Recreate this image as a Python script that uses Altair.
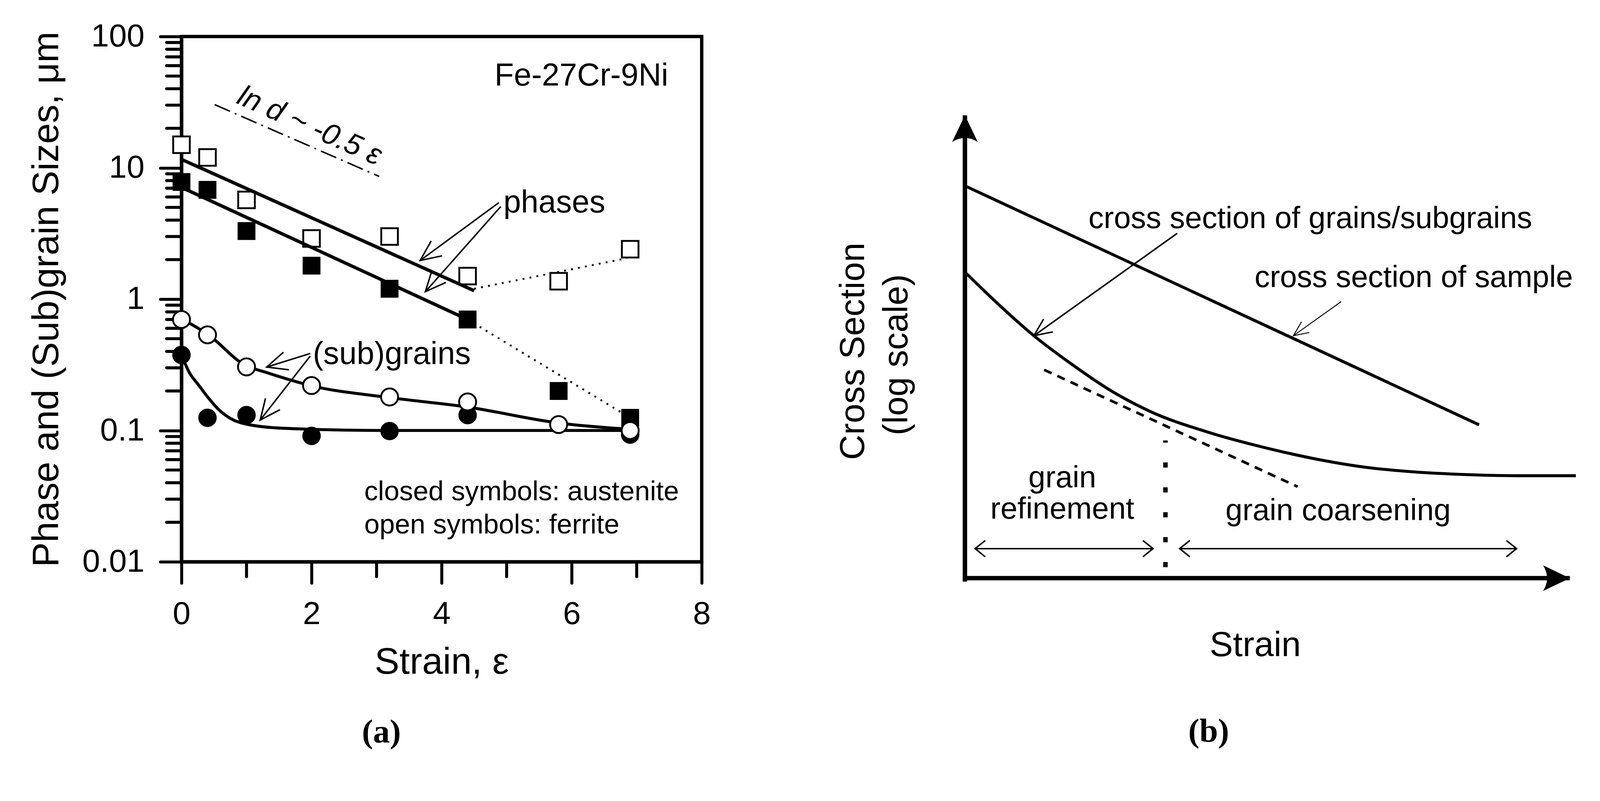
import math
import altair as alt
import pandas as pd

SANS = "Liberation Sans"
SERIF = "Liberation Serif"

# ================= Panel (a): values =================
strain = [0, 0.4, 1.0, 2.0, 3.2, 4.4, 5.8, 6.9]
ferrite_phase = [15.0, 12.0, 5.7, 2.9, 3.0, 1.5, 1.37, 2.4]          # open squares
austenite_phase = [7.8, 6.8, 3.3, 1.8, 1.2, 0.70, 0.20, 0.125]        # closed squares
ferrite_sub = [0.70, 0.535, 0.305, 0.22, 0.18, 0.165, 0.111, 0.100]   # open circles
aust_sub_strain = [0, 0.4, 1.0, 2.0, 3.2, 4.4, 6.9]
austenite_sub = [0.376, 0.125, 0.131, 0.091, 0.099, 0.131, 0.093]     # closed circles

fit_ferrite_s = [0, 4.5]
fit_ferrite_d = [11.6, 1.16]
fit_aust_s = [0, 4.4]
fit_aust_d = [7.1, 0.70]
dot_ferrite_s = [4.5, 6.85]
dot_ferrite_d = [1.2, 2.05]
dot_aust_s = [4.4, 6.9]
dot_aust_d = [0.70, 0.125]
curve_fsub_s = [0, 0.41, 0.99, 1.28, 2.0, 3.2, 4.39, 5.8, 6.9]
curve_fsub_d = [0.71, 0.537, 0.312, 0.279, 0.219, 0.178, 0.151, 0.114, 0.102]
curve_asub_s = [0, 0.116, 0.26, 0.41, 0.58, 0.76, 0.99, 1.57, 3.2, 6.9]
curve_asub_d = [0.376, 0.279, 0.223, 0.178, 0.143, 0.123, 0.112, 0.104, 0.1, 0.1]
slope_s = [0.51, 3.04]
slope_d = [30.3, 8.6]

x_major = [0, 2, 4, 6, 8]
x_minor = [1, 3, 5, 7]
y_major = [0.01, 0.1, 1, 10, 100]
y_minor = [0.02, 0.03, 0.04, 0.05, 0.06, 0.07, 0.08, 0.09,
           0.2, 0.3, 0.4, 0.5, 0.6, 0.7, 0.8, 0.9,
           2, 3, 4, 5, 6, 7, 8, 9,
           20, 30, 40, 50, 60, 70, 80, 90]

# annotation arrows (start -> tip)
arr_a_s0 = [4.88, 4.91, 1.98, 1.98]
arr_a_d0 = [5.43, 5.07, 0.386, 0.369]
arr_a_s1 = [3.67, 3.75, 1.31, 1.21]
arr_a_d1 = [1.97, 1.14, 0.304, 0.12]

txt_a = ["Fe-27Cr-9Ni", "phases", "(sub)grains",
         "closed symbols: austenite", "open symbols: ferrite"]
txt_a_s = [6.15, 4.95, 2.02, 2.81, 2.81]
txt_a_d = [50.0, 5.43, 0.38, 0.0339, 0.019]
txt_a_size = [85, 85, 85, 74, 74]
txt_a_align = ["center", "left", "left", "left", "left"]

slope_txt = "ln d ~ -0.5 ε"
slope_txt_s = 1.97
slope_txt_d = 20.8

# ================= Panel (b): schematic (arbitrary units) =================
sample_x = [0, 8.5]
sample_y = [6.78, 2.65]
grain_x = [0, 0.506, 1.14, 1.775, 2.367, 3.044, 4.06, 4.905, 5.75, 6.598, 7.444, 8.29, 9.137, 10.1]
grain_y = [5.29, 4.78, 4.19, 3.69, 3.27, 2.89, 2.51, 2.27, 2.07, 1.92, 1.835, 1.79, 1.77, 1.77]
tangent_x = [1.31, 5.50]
tangent_y = [3.60, 1.58]
divider_x = [3.315, 3.315]
divider_y = [2.38, 0.19]
span_x0 = [0.168, 3.55]
span_x1 = [3.11, 9.12]
span_y = [0.51, 0.51]
label_arr_x0 = [3.51, 6.22]
label_arr_y0 = [5.96, 4.78]
label_arr_x1 = [1.14, 5.43]
label_arr_y1 = [4.19, 4.19]
axis_tip_x = [0, 10]
axis_tip_y = [8, 0]

txt_b = ["cross section of grains/subgrains", "cross section of sample",
         "grain", "refinement", "grain coarsening", "Strain"]
txt_b_x = [5.71, 7.42, 1.61, 1.61, 6.17, 4.80]
txt_b_y = [6.21, 5.19, 1.73, 1.19, 1.16, -1.17]
txt_b_size = [82, 82, 82, 82, 82, 94]
ytitle_b = ["Cross Section", "(log scale)"]
ytitle_b_x = [-1.84, -1.12]
ytitle_b_y = [3.92, 3.86]

# ---------------- helpers ----------------
def head_angle(x0, y0, x1, y1, fx, fy):
    dx = fx(x1) - fx(x0)
    dy = fy(y1) - fy(y0)
    return math.degrees(math.atan2(dx, -dy)) % 360

fx_a = lambda v: v * 175.0
fy_a = lambda v: -math.log10(v) * 353.5
fx_b = lambda v: v * 162.8
fy_b = lambda v: -v * 155.75

VHEAD = "M-0.45,1 L0,0 L0.45,1"
VHEAD_WIDE = "M-0.8,1 L0,0 L0.8,1"
SOLIDHEAD = "M0,0 L0.48,1 Q0,0.7 -0.48,1 Z"

# ================= Panel (a) chart =================
xs = alt.Scale(domain=[0, 8], nice=False)
ys = alt.Scale(type="log", domain=[0.01, 100], nice=False)
common_axis = dict(tickWidth=8, tickCap="round", tickColor="black", domainWidth=9,
                   domainColor="black", labelColor="black", titleColor="black",
                   labelFont=SANS, titleFont=SANS, labelFontSize=86, titleFontSize=100,
                   titleFontWeight="normal", grid=False, labelFlush=False,
                   labelOverlap=False, tickSize=57)
xaxis = alt.Axis(values=x_major, title="Strain, ε", labelPadding=42, titlePadding=38,
                 **common_axis)
yaxis = alt.Axis(values=y_major, labelExpr="'' + datum.value",
                 title="Phase and (Sub)grain Sizes, μm", labelPadding=43,
                 titlePadding=111, **common_axis)
X = alt.X("s:Q", scale=xs, axis=xaxis)
Y = alt.Y("d:Q", scale=ys, axis=yaxis)

ymin_l = alt.Chart(pd.DataFrame({"d": y_minor})).mark_rule(
    color="black", strokeWidth=8, strokeCap="round").encode(
    y=Y, x=alt.value(-40), x2=alt.value(0))
xmin_l = alt.Chart(pd.DataFrame({"s": x_minor})).mark_rule(
    color="black", strokeWidth=8, strokeCap="round").encode(
    x=X, y=alt.value(1414), y2=alt.value(1454))

dot_df = pd.DataFrame({"s": dot_ferrite_s + dot_aust_s,
                       "d": dot_ferrite_d + dot_aust_d,
                       "g": ["f", "f", "a", "a"]})
dot_l = alt.Chart(dot_df).mark_line(color="black", strokeWidth=5, strokeDash=[5, 14]).encode(
    x=X, y=Y, detail="g:N")

sq_closed = alt.Chart(pd.DataFrame({"s": strain, "d": austenite_phase})).mark_point(
    shape="square", filled=True, color="black", size=2300, opacity=1).encode(x=X, y=Y)
sq_open = alt.Chart(pd.DataFrame({"s": strain, "d": ferrite_phase})).mark_point(
    shape="square", filled=True, fill="white", stroke="black", strokeWidth=5,
    size=2000, opacity=1).encode(x=X, y=Y)

fit_df = pd.DataFrame({"s": fit_ferrite_s + fit_aust_s,
                       "d": fit_ferrite_d + fit_aust_d,
                       "g": ["f", "f", "a", "a"]})
fit_l = alt.Chart(fit_df).mark_line(color="black", strokeWidth=9).encode(
    x=X, y=Y, detail="g:N")

slope_l = alt.Chart(pd.DataFrame({"s": slope_s, "d": slope_d})).mark_line(
    color="black", strokeWidth=4, strokeDash=[45, 14, 5, 14]).encode(x=X, y=Y)

circ_closed = alt.Chart(pd.DataFrame({"s": aust_sub_strain, "d": austenite_sub})).mark_point(
    shape="circle", filled=True, color="black", size=2460, opacity=1).encode(x=X, y=Y)

curve_df = pd.DataFrame({"s": curve_fsub_s + curve_asub_s,
                         "d": curve_fsub_d + curve_asub_d,
                         "g": ["f"] * len(curve_fsub_s) + ["a"] * len(curve_asub_s)})
curve_l = alt.Chart(curve_df).mark_line(color="black", strokeWidth=8,
                                        interpolate="monotone").encode(
    x=X, y=Y, detail="g:N")

circ_open = alt.Chart(pd.DataFrame({"s": strain, "d": ferrite_sub})).mark_point(
    shape="circle", filled=True, fill="white", stroke="black", strokeWidth=5,
    size=2100, opacity=1).encode(x=X, y=Y)

arr_df = pd.DataFrame({"s": arr_a_s0, "d": arr_a_d0, "s2": arr_a_s1, "d2": arr_a_d1})
arr_l = alt.Chart(arr_df).mark_rule(color="black", strokeWidth=4).encode(
    x=X, y=Y, x2="s2:Q", y2="d2:Q")
head_df = pd.DataFrame({
    "s": arr_a_s1, "d": arr_a_d1,
    "ang": [head_angle(a, b, c, e, fx_a, fy_a)
            for a, b, c, e in zip(arr_a_s0, arr_a_d0, arr_a_s1, arr_a_d1)]})
head_l = alt.Chart(head_df).mark_point(
    shape=VHEAD, filled=False, stroke="black", strokeWidth=4, size=12100,
    opacity=1).encode(x=X, y=Y, angle=alt.Angle("ang:Q", scale=None))

txt_layers = []
for t, s, d, fs, al in zip(txt_a, txt_a_s, txt_a_d, txt_a_size, txt_a_align):
    txt_layers.append(
        alt.Chart(pd.DataFrame({"s": [s], "d": [d], "t": [t]})).mark_text(
            font=SANS, fontSize=fs, align=al, baseline="middle", color="black").encode(
            x=X, y=Y, text="t:N"))
slope_txt_l = alt.Chart(pd.DataFrame({"s": [slope_txt_s], "d": [slope_txt_d],
                                      "t": [slope_txt]})).mark_text(
    font=SANS, fontSize=80, fontStyle="italic", angle=24, align="center",
    baseline="middle", color="black").encode(x=X, y=Y, text="t:N")

left = alt.layer(
    ymin_l, xmin_l, dot_l, sq_closed, sq_open, fit_l, slope_l, circ_closed,
    curve_l, circ_open, arr_l, head_l, *txt_layers, slope_txt_l
).properties(
    width=1400, height=1414,
    view=alt.ViewBackground(stroke="black", strokeWidth=9),
    title=alt.TitleParams(text="(a)", orient="bottom", font=SERIF, fontSize=90,
                          fontWeight="bold", color="black", offset=94,
                          anchor="middle", frame="group", dx=-162),
)

# ================= Panel (b) chart =================
rxs = alt.Scale(domain=[-3, 10.3], nice=False, zero=False)
rys = alt.Scale(domain=[-3.108, 9.361], nice=False, zero=False)
RX = alt.X("x:Q", scale=rxs, axis=None)
RY = alt.Y("y:Q", scale=rys, axis=None)

axes_df = pd.DataFrame({"x": [0, -0.03], "y": [-0.06, 0], "x2": [0, 10], "y2": [8, 0]})
axes_l = alt.Chart(axes_df).mark_rule(color="black", strokeWidth=12).encode(
    x=RX, y=RY, x2="x2:Q", y2="y2:Q")
tips_l = alt.Chart(pd.DataFrame({"x": axis_tip_x, "y": axis_tip_y, "ang": [0, 90]})).mark_point(
    shape=SOLIDHEAD, filled=True, color="black", size=20736, opacity=1).encode(
    x=RX, y=RY, angle=alt.Angle("ang:Q", scale=None))

sample_l = alt.Chart(pd.DataFrame({"x": sample_x, "y": sample_y})).mark_line(
    color="black", strokeWidth=8).encode(x=RX, y=RY)
grain_l = alt.Chart(pd.DataFrame({"x": grain_x, "y": grain_y})).mark_line(
    color="black", strokeWidth=8, interpolate="monotone").encode(x=RX, y=RY)
tangent_l = alt.Chart(pd.DataFrame({"x": tangent_x, "y": tangent_y})).mark_line(
    color="black", strokeWidth=7, strokeDash=[22, 17]).encode(x=RX, y=RY)
divider_l = alt.Chart(pd.DataFrame({"x": divider_x, "y": divider_y})).mark_line(
    color="black", strokeWidth=12, strokeDash=[14, 53]).encode(x=RX, y=RY, order="y:Q")

span_df = pd.DataFrame({"x": span_x0, "y": span_y, "x2": span_x1, "y2": span_y})
span_l = alt.Chart(span_df).mark_rule(color="black", strokeWidth=4).encode(
    x=RX, y=RY, x2="x2:Q", y2="y2:Q")
span_heads = pd.DataFrame({"x": span_x0 + span_x1, "y": span_y + span_y,
                           "ang": [270, 270, 90, 90]})
span_head_l = alt.Chart(span_heads).mark_point(
    shape=VHEAD_WIDE, filled=False, stroke="black", strokeWidth=4, size=3000,
    opacity=1).encode(x=RX, y=RY, angle=alt.Angle("ang:Q", scale=None))

larr_df = pd.DataFrame({"x": label_arr_x0, "y": label_arr_y0,
                        "x2": label_arr_x1, "y2": label_arr_y1, "w": [4, 2.5]})
larr_l = alt.Chart(larr_df).mark_rule(color="black").encode(
    x=RX, y=RY, x2="x2:Q", y2="y2:Q", strokeWidth=alt.StrokeWidth("w:Q", scale=None))
lhead_df = pd.DataFrame({
    "x": label_arr_x1, "y": label_arr_y1, "w": [4, 2.5], "sz": [9000, 6400],
    "ang": [head_angle(a, b, c, e, fx_b, fy_b)
            for a, b, c, e in zip(label_arr_x0, label_arr_y0, label_arr_x1, label_arr_y1)]})
lhead_l = alt.Chart(lhead_df).mark_point(
    shape=VHEAD, filled=False, stroke="black", opacity=1).encode(
    x=RX, y=RY, angle=alt.Angle("ang:Q", scale=None),
    size=alt.Size("sz:Q", scale=None),
    strokeWidth=alt.StrokeWidth("w:Q", scale=None))

btxt_df = pd.DataFrame({"x": txt_b_x, "y": txt_b_y, "t": txt_b, "fs": txt_b_size})
btxt_l = alt.Chart(btxt_df).mark_text(font=SANS, align="center", baseline="middle",
                                      color="black").encode(
    x=RX, y=RY, text="t:N", size=alt.Size("fs:Q", scale=None))
bytitle_l = alt.Chart(pd.DataFrame({"x": ytitle_b_x, "y": ytitle_b_y, "t": ytitle_b})).mark_text(
    font=SANS, fontSize=94, angle=270, align="center", baseline="middle",
    color="black").encode(x=RX, y=RY, text="t:N")
blabel_l = alt.Chart(pd.DataFrame({"x": [4.03], "y": [-2.65], "t": ["(b)"]})).mark_text(
    font=SERIF, fontSize=90, fontWeight="bold", align="center", baseline="middle",
    color="black").encode(x=RX, y=RY, text="t:N")

right = alt.layer(
    sample_l, grain_l, tangent_l, divider_l, span_l, span_head_l, larr_l, lhead_l,
    axes_l, tips_l, btxt_l, bytitle_l, blabel_l
).properties(
    width=2165, height=1942,
    view=alt.ViewBackground(stroke="transparent", strokeWidth=0),
)

chart = alt.hconcat(left, right, spacing=191).properties(
    padding={"left": 63, "top": -9, "right": 24, "bottom": 5},
    background="white",
)

chart.save("out.html", embed_options={"renderer": "svg", "actions": False})
